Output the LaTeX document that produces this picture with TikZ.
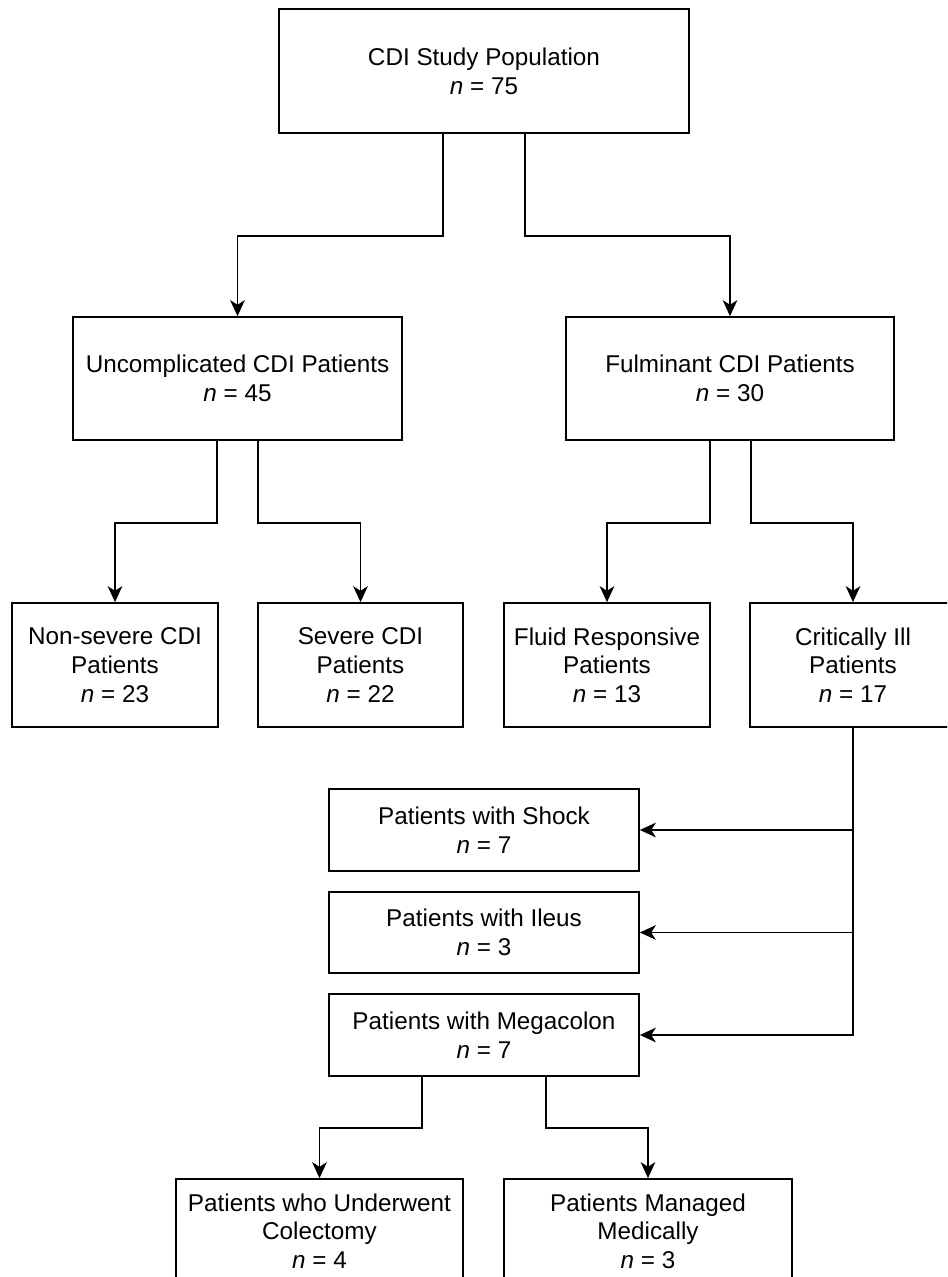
\documentclass[tikz,border=0pt]{standalone}
\usepackage{fontspec}
\setmainfont{Liberation Sans}
\usetikzlibrary{arrows.meta,calc}
\begin{document}
\begin{tikzpicture}[x=0.75pt,y=-0.75pt,
  box/.style={draw, line width=1.3pt, align=center, inner sep=0pt,
    font=\fontsize{18.2}{21.5}\selectfont},
  conn/.style={line width=1.4pt},
  arr/.style={conn,-{Stealth[length=12pt,width=11pt,inset=3.5pt]}}]
\clip (0,0) rectangle (947,1277);
\fill[white] (0,0) rectangle (947,1277);
% nodes
\node[box, minimum width=307.5pt, minimum height=93pt] (top) at (484,71) {CDI Study Population\\\textit{n} = 75};
\node[box, minimum width=246.75pt, minimum height=92.25pt] (unc) at (237.5,378.5) {Uncomplicated CDI Patients\\\textit{n} = 45};
\node[box, minimum width=246pt, minimum height=92.25pt] (ful) at (730,378.5) {Fulminant CDI Patients\\\textit{n} = 30};
\node[box, minimum width=154.5pt, minimum height=93pt] (nons) at (115,665) {Non-severe CDI\\Patients\\\textit{n} = 23};
\node[box, minimum width=153.75pt, minimum height=93pt] (sev) at (360.5,665) {Severe CDI\\Patients\\\textit{n} = 22};
\node[box, minimum width=154.5pt, minimum height=93pt] (flu) at (607,665) {Fluid Responsive\\Patients\\\textit{n} = 13};
\node[box, minimum width=154.5pt, minimum height=93pt] (cri) at (853,665) {Critically Ill\\Patients\\\textit{n} = 17};
\node[box, minimum width=232.5pt, minimum height=61.5pt] (shock) at (484,830) {Patients with Shock\\\textit{n} = 7};
\node[box, minimum width=232.5pt, minimum height=60.75pt] (ileus) at (484,932.5) {Patients with Ileus\\\textit{n} = 3};
\node[box, minimum width=232.5pt, minimum height=61.5pt] (mega) at (484,1035) {Patients with Megacolon\\\textit{n} = 7};
\node[box, minimum width=215.25pt, minimum height=78pt] (col) at (319.5,1231) {Patients who Underwent\\Colectomy\\\textit{n} = 4};
\node[box, minimum width=216pt, minimum height=78pt] (man) at (648,1231) {Patients Managed\\Medically\\\textit{n} = 3};
% connectors
\draw[arr] ($(top.south)+(-41,0)$) -- ++(0,102) -| (unc.north);
\draw[arr] ($(top.south)+(41,0)$) -- ++(0,102) -| (ful.north);
\draw[arr] ($(unc.south)+(-20.5,0)$) -- ++(0,82) -| (nons.north);
\draw[arr] ($(unc.south)+(20.5,0)$) -- ++(0,82) -| (sev.north);
\draw[arr] ($(ful.south)+(-20,0)$) -- ++(0,82) -| (flu.north);
\draw[arr] ($(ful.south)+(21,0)$) -- ++(0,82) -| (cri.north);
\draw[arr] (cri.south) |- (mega.east);
\draw[arr] (cri.south |- shock.east) -- (shock.east);
\draw[arr] (cri.south |- ileus.east) -- (ileus.east);
\draw[arr] ($(mega.south)+(-62,0)$) -- ++(0,51) -| (col.north);
\draw[arr] ($(mega.south)+(62,0)$) -- ++(0,51) -| (man.north);
\end{tikzpicture}
\end{document}
